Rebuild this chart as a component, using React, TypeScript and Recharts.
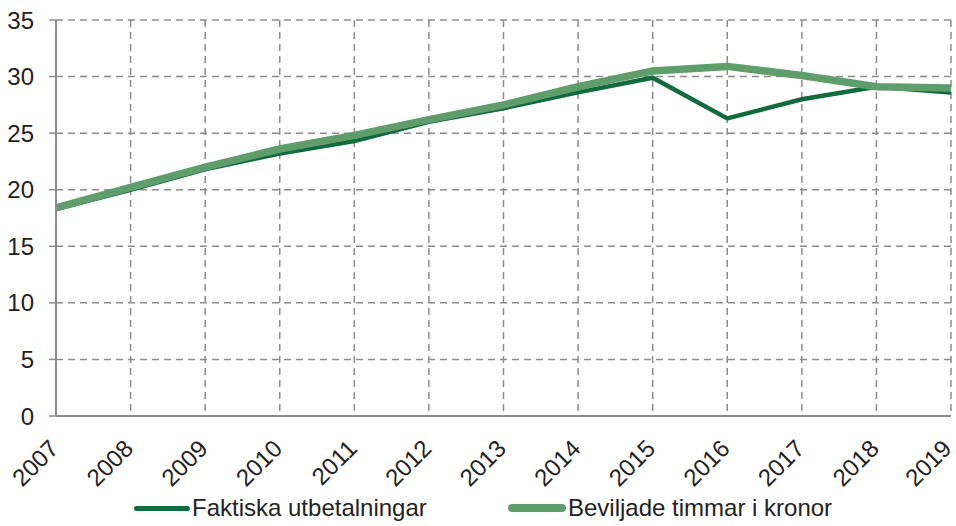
import React from "react";
import { LineChart, Line, XAxis, YAxis, CartesianGrid, Legend } from "recharts";

const years = ["2007","2008","2009","2010","2011","2012","2013","2014","2015","2016","2017","2018","2019"];
const faktiska = [18.3, 20.0, 21.8, 23.2, 24.3, 26.0, 27.2, 28.6, 29.9, 26.3, 28.0, 29.1, 28.6];
const beviljade = [18.4, 20.2, 22.0, 23.6, 24.8, 26.2, 27.5, 29.1, 30.5, 30.9, 30.1, 29.1, 29.0];
const yTicks = [0, 5, 10, 15, 20, 25, 30, 35];

const seriesNames = ["Faktiska utbetalningar", "Beviljade timmar i kronor"];
const DARK = "#116b3c";
const LIGHT = "#5f9e6c";
const FONT = "Liberation Sans, Arial, sans-serif";
const FS = 24;
const XFS = 24;

const data = years.map((y, i) => ({ year: y, faktiska: faktiska[i], beviljade: beviljade[i] }));

const XTick = (props: any) => {
  const { x, payload } = props;
  const ex = Math.min(x + 4, 953);
  return (
    <g transform={`translate(${ex},450)`}>
      <text transform="rotate(-45)" textAnchor="end" fontSize={XFS} fill="#222" fontFamily={FONT}>
        {payload.value}
      </text>
    </g>
  );
};

const YTick = (props: any) => {
  const { x, y, payload } = props;
  return (
    <text x={x - 13} y={y} dy="0.36em" textAnchor="end" fontSize={FS} fill="#222" fontFamily={FONT}>
      {payload.value}
    </text>
  );
};

const LegendContent = () => (
  <div style={{ position: "relative", height: 34, fontFamily: FONT, fontSize: FS, color: "#222" }}>
    <div style={{ position: "absolute", left: 134, top: 2, display: "flex", alignItems: "center", whiteSpace: "nowrap" }}>
      <span style={{ display: "inline-block", width: 56, height: 5, background: DARK, borderRadius: 2.5, marginRight: 2 }} />
      <span>{seriesNames[0]}</span>
    </div>
    <div style={{ position: "absolute", left: 508, top: 2, display: "flex", alignItems: "center", whiteSpace: "nowrap" }}>
      <span style={{ display: "inline-block", width: 58, height: 8, background: LIGHT, borderRadius: 4, marginRight: 2 }} />
      <span>{seriesNames[1]}</span>
    </div>
  </div>
);

export default function App() {
  return (
    <div style={{ position: "absolute", left: 0, top: 0 }}>
      <LineChart width={956} height={526} data={data} margin={{ top: 20, right: 5, bottom: 0, left: 0 }}>
        <CartesianGrid stroke="#8c8c8c" strokeDasharray="7 5" strokeWidth={1.5} vertical horizontal />
        <XAxis
          dataKey="year"
          tick={<XTick />}
          tickLine={false}
          axisLine={{ stroke: "#8c8c8c", strokeWidth: 2 }}
          interval={0}
          height={76}
        />
        <YAxis
          domain={[0, 35]}
          ticks={yTicks}
          width={56}
          tick={<YTick />}
          tickLine={{ stroke: "#8c8c8c", strokeWidth: 1.5 }}
          tickSize={7}
          axisLine={{ stroke: "#8c8c8c", strokeWidth: 2 }}
          interval={0}
        />
        <Line type="linear" dataKey="faktiska" stroke={DARK} strokeWidth={4.5} dot={false} isAnimationActive={false} />
        <Line type="linear" dataKey="beviljade" stroke={LIGHT} strokeWidth={7.5} dot={false} isAnimationActive={false} />
        <Legend content={<LegendContent />} verticalAlign="bottom" wrapperStyle={{ left: 0, width: 956, bottom: 0 }} />
      </LineChart>
    </div>
  );
}
